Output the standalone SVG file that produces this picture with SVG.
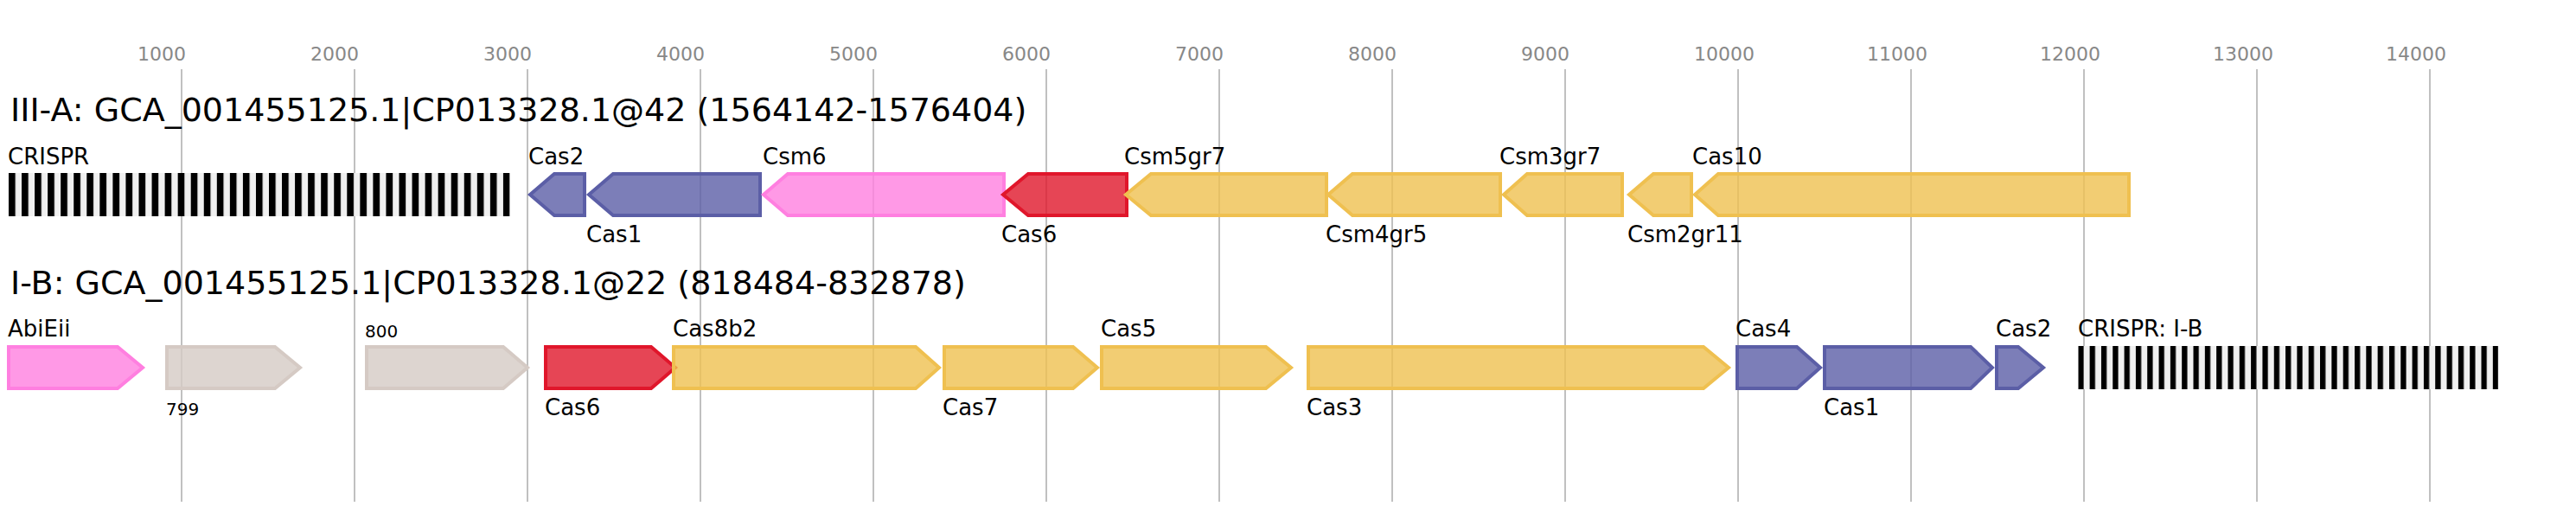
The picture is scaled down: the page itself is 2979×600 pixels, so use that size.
<svg xmlns="http://www.w3.org/2000/svg" width="2979" height="600" viewBox="0 0 2979 600">
<style>
text{font-family:"DejaVu Sans","Liberation Sans",sans-serif;fill:#000}
.tick{font-size:22px;fill:#888}
.title{font-size:38px}
.lbl{font-size:26px}
.sm{font-size:20px}
.grid line{stroke:#c0c0c0;stroke-width:2}
.g{stroke-width:4;stroke-linejoin:miter}
.blue{fill:#5b5ea6;fill-opacity:.8;stroke:#5b5ea6}
.pink{fill:#ff7fe0;fill-opacity:.8;stroke:#ff7fe0}
.red{fill:#e0162b;fill-opacity:.8;stroke:#e0162b}
.yel{fill:#efc050;fill-opacity:.8;stroke:#efc050}
.gray{fill:#d5cac4;fill-opacity:.8;stroke:#d5cac4}
</style>
<defs>
<pattern id="cr1" patternUnits="userSpaceOnUse" x="10" y="200" width="15.05" height="50"><rect width="15.05" height="50" fill="#f0f0f0"/><rect width="7.7" height="50" fill="#000"/></pattern>
<pattern id="cr2" patternUnits="userSpaceOnUse" x="2403.3" y="400" width="13.32" height="50"><rect width="13.32" height="50" fill="#f0f0f0"/><rect width="6.3" height="50" fill="#000"/></pattern>
</defs>
<rect width="2979" height="600" fill="#fff"/>
<g id="axis" class="grid">
<line x1="210" y1="80" x2="210" y2="580"/><line x1="410" y1="80" x2="410" y2="580"/><line x1="610" y1="80" x2="610" y2="580"/><line x1="810" y1="80" x2="810" y2="580"/><line x1="1010" y1="80" x2="1010" y2="580"/><line x1="1210" y1="80" x2="1210" y2="580"/><line x1="1410" y1="80" x2="1410" y2="580"/><line x1="1610" y1="80" x2="1610" y2="580"/><line x1="1810" y1="80" x2="1810" y2="580"/><line x1="2010" y1="80" x2="2010" y2="580"/><line x1="2210" y1="80" x2="2210" y2="580"/><line x1="2410" y1="80" x2="2410" y2="580"/><line x1="2610" y1="80" x2="2610" y2="580"/><line x1="2810" y1="80" x2="2810" y2="580"/>
<text class="tick" x="159" y="70">1000</text><text class="tick" x="359" y="70">2000</text><text class="tick" x="559" y="70">3000</text><text class="tick" x="759" y="70">4000</text><text class="tick" x="959" y="70">5000</text><text class="tick" x="1159" y="70">6000</text><text class="tick" x="1359" y="70">7000</text><text class="tick" x="1559" y="70">8000</text><text class="tick" x="1759" y="70">9000</text><text class="tick" x="1959" y="70">10000</text><text class="tick" x="2159" y="70">11000</text><text class="tick" x="2359" y="70">12000</text><text class="tick" x="2559" y="70">13000</text><text class="tick" x="2759" y="70">14000</text>
</g>
<text id="title1" class="title" x="12" y="140">III-A: GCA_001455125.1|CP013328.1@42 (1564142-1576404)</text>
<text id="title2" class="title" x="12" y="340">I-B: GCA_001455125.1|CP013328.1@22 (818484-832878)</text>
<g id="connectors"></g>
<g id="r1-crispr"><rect x="10" y="200" width="579.6" height="50" fill="url(#cr1)"/><text class="lbl" x="9" y="190">CRISPR</text></g>
<g id="r1-cas2"><path class="g blue" d="M676,201 L641,201 L613,225 L641,249 L676,249 Z"/><text class="lbl" x="611" y="190">Cas2</text></g>
<g id="r1-cas1"><path class="g blue" d="M879,201 L709,201 L681,225 L709,249 L879,249 Z"/><text class="lbl" x="678" y="280">Cas1</text></g>
<g id="r1-csm6"><path class="g pink" d="M1161,201 L911,201 L883,225 L911,249 L1161,249 Z"/><text class="lbl" x="882" y="190">Csm6</text></g>
<g id="r1-cas6"><path class="g red" d="M1303,201 L1189,201 L1160,225 L1189,249 L1303,249 Z"/><text class="lbl" x="1158" y="280">Cas6</text></g>
<g id="r1-csm5gr7"><path class="g yel" d="M1534,201 L1331,201 L1302,225 L1331,249 L1534,249 Z"/><text class="lbl" x="1300" y="190">Csm5gr7</text></g>
<g id="r1-csm4gr5"><path class="g yel" d="M1735,201 L1564,201 L1536,225 L1564,249 L1735,249 Z"/><text class="lbl" x="1533" y="280">Csm4gr5</text></g>
<g id="r1-csm3gr7"><path class="g yel" d="M1876,201 L1766,201 L1739,225 L1766,249 L1876,249 Z"/><text class="lbl" x="1734" y="190">Csm3gr7</text></g>
<g id="r1-csm2gr11"><path class="g yel" d="M1956,201 L1912,201 L1884,225 L1912,249 L1956,249 Z"/><text class="lbl" x="1882" y="280">Csm2gr11</text></g>
<g id="r1-cas10"><path class="g yel" d="M2462,201 L1987,201 L1960,225 L1987,249 L2462,249 Z"/><text class="lbl" x="1957" y="190">Cas10</text></g>
<g id="r2-abieii"><path class="g pink" d="M10,401 L136,401 L165,425 L136,449 L10,449 Z"/><text class="lbl" x="9" y="389">AbiEii</text></g>
<g id="r2-799"><path class="g gray" d="M193,401 L318,401 L347,425 L318,449 L193,449 Z"/><text class="sm" x="192" y="480">799</text></g>
<g id="r2-800"><path class="g gray" d="M424,401 L582,401 L610,425 L582,449 L424,449 Z"/><text class="sm" x="422" y="390">800</text></g>
<g id="r2-cas6"><path class="g red" d="M631,401 L753,401 L781,425 L753,449 L631,449 Z"/><text class="lbl" x="630" y="480">Cas6</text></g>
<g id="r2-cas8b2"><path class="g yel" d="M779,401 L1059,401 L1086,425 L1059,449 L779,449 Z"/><text class="lbl" x="778" y="389">Cas8b2</text></g>
<g id="r2-cas7"><path class="g yel" d="M1092,401 L1241,401 L1269,425 L1241,449 L1092,449 Z"/><text class="lbl" x="1090" y="480">Cas7</text></g>
<g id="r2-cas5"><path class="g yel" d="M1274,401 L1464,401 L1493,425 L1464,449 L1274,449 Z"/><text class="lbl" x="1273" y="389">Cas5</text></g>
<g id="r2-cas3"><path class="g yel" d="M1513,401 L1970,401 L1999,425 L1970,449 L1513,449 Z"/><text class="lbl" x="1511" y="480">Cas3</text></g>
<g id="r2-cas4"><path class="g blue" d="M2009,401 L2078,401 L2105,425 L2078,449 L2009,449 Z"/><text class="lbl" x="2007" y="389">Cas4</text></g>
<g id="r2-cas1"><path class="g blue" d="M2110,401 L2279,401 L2304,425 L2279,449 L2110,449 Z"/><text class="lbl" x="2109" y="480">Cas1</text></g>
<g id="r2-cas2"><path class="g blue" d="M2309,401 L2334,401 L2363,425 L2334,449 L2309,449 Z"/><text class="lbl" x="2308" y="389">Cas2</text></g>
<g id="r2-crispr"><rect x="2403.3" y="400" width="485.8" height="50" fill="url(#cr2)"/><text class="lbl" x="2403" y="389">CRISPR: I-B</text></g>
</svg>
